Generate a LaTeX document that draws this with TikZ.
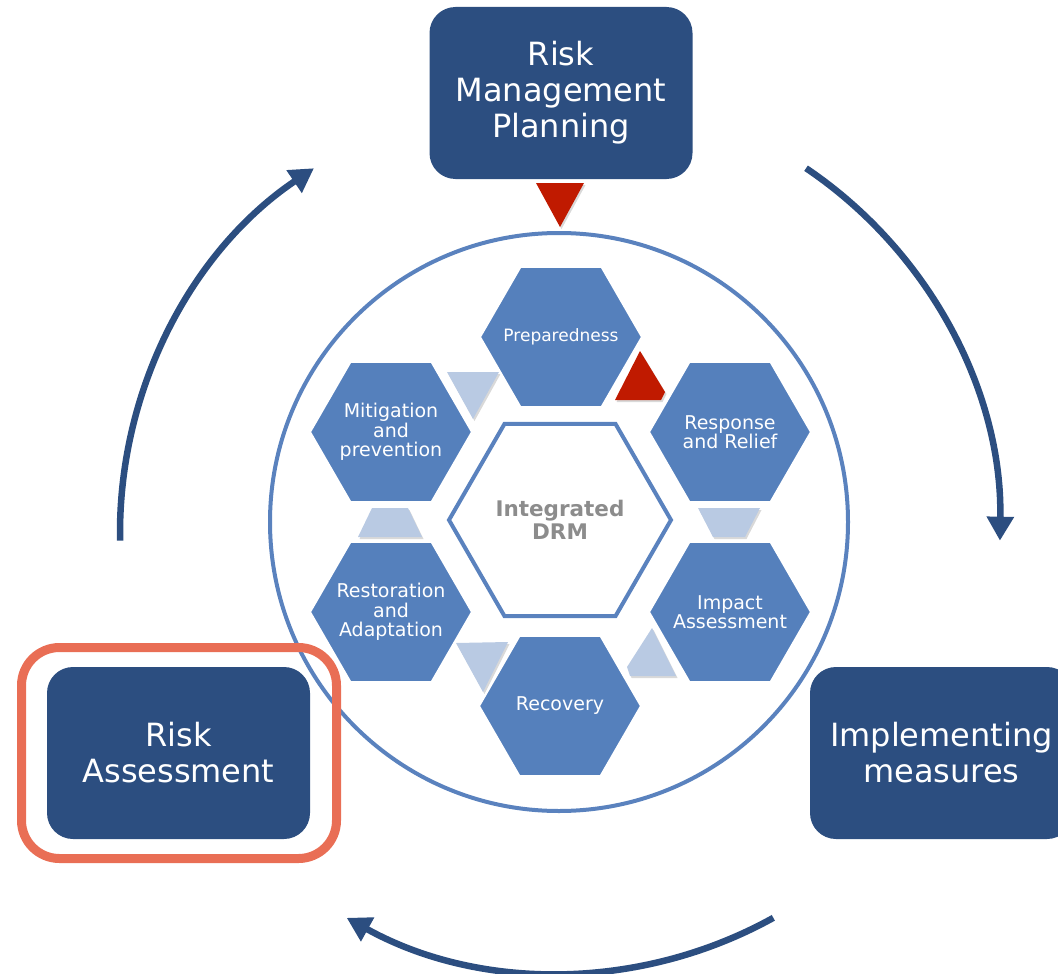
\documentclass[tikz,border=0pt]{standalone}
\usepackage{fontspec}
\setmainfont{DejaVu Sans}
\usetikzlibrary{shapes.geometric,arrows.meta,shadows}
\definecolor{hexblue}{HTML}{5580BC}
\definecolor{lightblue}{HTML}{B9CAE3}
\definecolor{redtri}{HTML}{C01A00}
\definecolor{darkbox}{HTML}{2C4E80}
\definecolor{ringblue}{HTML}{5A82BE}
\definecolor{orangehl}{HTML}{E96E55}
\definecolor{arrowblue}{HTML}{2C4E80}
\definecolor{drmgray}{HTML}{8C8C8C}
\begin{document}
\begin{tikzpicture}[x=1pt,y=-1pt,
  hexshape/.style={fill=hexblue, draw=white, line width=2pt},
  hextext/.style={text=white, inner sep=0pt, font=\fontsize{19}{19.5}\selectfont, align=center},
  bigbox/.style={rectangle, rounded corners=26pt, fill=darkbox, text=white,
    minimum width=263pt, minimum height=172pt, inner sep=0pt,
    font=\fontsize{32}{36}\selectfont, align=center},
  cyclearrow/.style={draw=arrowblue, line width=6.5pt, -{Triangle[length=24pt,width=26pt]}},
  tri/.style={drop shadow={shadow xshift=1.5pt, shadow yshift=-2pt, opacity=0.3}},
  lighttri/.style={tri, fill=lightblue},
  redtriangle/.style={tri, fill=redtri},
]
\useasboundingbox (0,0) rectangle (1058,974);
\clip (0,0) rectangle (1058,974);

% outer cycle arrows
\coordinate (ac) at (560,533);
\coordinate (arrTL) at ([shift={(ac)}]-181:440);
\coordinate (arrTR) at ([shift={(ac)}]-56:440);
\coordinate (arrB) at ([shift={(ac)}]61:440);
\draw[cyclearrow] (arrTL) arc[start angle=-181, end angle=-124, radius=440];
\draw[cyclearrow] (arrTR) arc[start angle=-56, end angle=1, radius=440];
\draw[cyclearrow] (arrB) arc[start angle=61, end angle=119, radius=440];

% ring
\node[circle, draw=ringblue, line width=4pt, minimum size=578pt, inner sep=0pt] (ring) at (559,522) {};

% boxes
\node[bigbox] (rmp) at (561,93) {Risk\\Management\\Planning};
\node[bigbox] (ra) at (178.5,753) {Risk\\Assessment};
\node[bigbox] (im) at (941.5,753) {Implementing\\measures};
\node[rectangle, rounded corners=38pt, draw=orangehl, line width=9pt,
      minimum width=315pt, minimum height=211pt] (hl) at (179,753) {};

% red triangle below the planning box
\fill[redtriangle] (536,183) -- (584,183) -- (560,227) -- cycle;

% small connector triangles
\fill[lighttri] (447,372) -- (499,372) -- (473,419) -- cycle;
\fill[redtriangle] (640,351) -- (665,392) -- (661,400) -- (615,400) -- cycle;
\fill[lighttri] (698,508) -- (760,508) -- (745,537) -- (713,537) -- cycle;
\fill[lighttri] (652,628) -- (676,676) -- (630,676) -- (627,667) -- cycle;
\fill[lighttri] (456,643) -- (508,642) -- (483,692) -- cycle;
\fill[lighttri] (372,508) -- (408,508) -- (422,537) -- (358,537) -- cycle;

% hexagons
\coordinate (prepc) at (561,337);
\coordinate (respc) at (730,432);
\coordinate (impc) at (730,612);
\coordinate (recc) at (560,706);
\coordinate (restc) at (391,612);
\coordinate (mitc) at (391,432);
\foreach \c in {prepc,respc,impc,recc,restc,mitc}
  \filldraw[hexshape] (\c) +(0:81) -- +(60:81) -- +(120:81) -- +(180:81) -- +(240:81) -- +(300:81) -- cycle;

\node[hextext, font=\fontsize{17}{19.5}\selectfont] (prep) at (prepc) {Preparedness};
\node[hextext] (resp) at (respc) {Response\\and Relief};
\node[hextext] (imp) at (impc) {Impact\\Assessment};
\node[hextext] (rec) at (recc) {Recovery};
\node[hextext] (rest) at (restc) {Restoration\\and\\Adaptation};
\node[hextext] (mit) at (mitc) {Mitigation\\and\\prevention};

\node[regular polygon, regular polygon sides=6, minimum size=222pt, inner sep=0pt,
      fill=white, draw=ringblue, line width=4pt, text=drmgray,
      font=\bfseries\fontsize{21.5}{23}\selectfont, align=center] (drm) at (560,520) {Integrated\\DRM};
\end{tikzpicture}
\end{document}
